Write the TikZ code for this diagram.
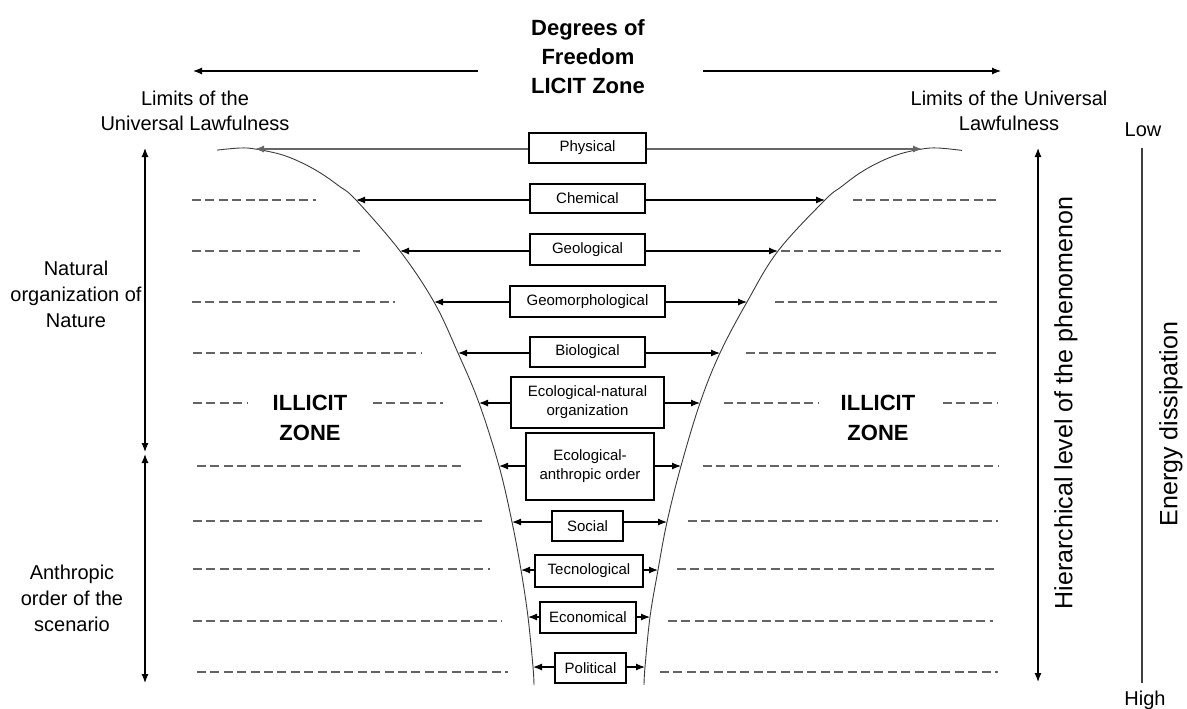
\documentclass[tikz,border=0pt]{standalone}
\usepackage{fontspec}
\setmainfont{Liberation Sans}
\usetikzlibrary{arrows.meta}
\definecolor{dashgray}{HTML}{646464}
\definecolor{curvegray}{HTML}{3A3A3A}
\tikzset{
  lbl/.style={font=\fontsize{20}{25}\selectfont, align=center, inner sep=0pt},
  lblb/.style={font=\fontsize{20}{26}\selectfont, align=center, inner sep=0pt},
  ttl/.style={font=\bfseries\fontsize{22}{29}\selectfont, align=center, inner sep=0pt},
  zone/.style={font=\bfseries\fontsize{22}{30}\selectfont, align=center, inner sep=0pt},
  vtxt/.style={font=\fontsize{25}{30}\selectfont, rotate=90, inner sep=0pt},
  lvl/.style={draw, line width=1.2pt, font=\fontsize{15}{19}\selectfont, align=center, inner sep=0pt},
  conn/.style={line width=1.2pt, -{Latex[length=9pt,width=7pt]}},
  dbl/.style={line width=1.2pt, {Latex[length=9pt,width=7pt]}-{Latex[length=9pt,width=7pt]}},
  funnel/.style={line width=0.9pt, curvegray},
  dsh/.style={line width=2.3pt, dashgray, dash pattern=on 9pt off 4.4pt},
}
\begin{document}
\begin{tikzpicture}[x=1pt,y=-1pt]
\useasboundingbox (0,0) rectangle (1187,709);

% title and top arrows
\node[ttl] (title) at (588,57) {Degrees of\\Freedom\\LICIT Zone};
\coordinate (tla) at (478,71); \coordinate (tlb) at (193,71);
\coordinate (tra) at (703,71); \coordinate (trb) at (1001,71);
\draw[conn] (tla) -- (tlb);
\draw[conn] (tra) -- (trb);

\node[lbl] (limL) at (195,111) {Limits of the\\Universal Lawfulness};
\node[lbl] (limR) at (1009,111) {Limits of the Universal\\Lawfulness};

% left side labels and arrows
\node[lblb] (nat) at (76,294) {Natural\\organization of\\Nature};
\node[lblb] (anth) at (72,598) {Anthropic\\order of the\\scenario};
\coordinate (va1) at (145,148); \coordinate (va2) at (145,452);
\coordinate (vb1) at (145,454); \coordinate (vb2) at (145,683);
\draw[dbl] (va1) -- (va2);
\draw[dbl] (vb1) -- (vb2);

% right side
\coordinate (h1) at (1038,148); \coordinate (h2) at (1038,682);
\draw[dbl] (h1) -- (h2);
\node[vtxt] (hier) at (1066,403) {Hierarchical level of the phenomenon};
\coordinate (e1) at (1142,148); \coordinate (e2) at (1142,683);
\draw[line width=1.2pt, black!75] (e1) -- (e2);
\node[lbl] (low) at (1143,130) {Low};
\node[lbl] (high) at (1145,700) {High};
\node[vtxt] (energy) at (1171,424) {Energy dissipation};

% dashed lines (left)
\draw[dsh] (192,200) -- (316,200);
\draw[dsh] (192,251) -- (360,251);
\draw[dsh] (192,302) -- (395,302);
\draw[dsh] (193,353) -- (421,353);
\draw[dsh] (193,403) -- (248,403);
\draw[dsh] (373,403) -- (443,403);
\draw[dsh] (197,466) -- (463,466);
\draw[dsh] (193,521) -- (482,521);
\draw[dsh] (193,569) -- (490,569);
\draw[dsh] (193,621) -- (502,621);
\draw[dsh] (197,672) -- (508,672);
% dashed lines (right)
\draw[dsh] (853,200) -- (1000,200);
\draw[dsh] (781,251) -- (1001,251);
\draw[dsh] (775,302) -- (997,302);
\draw[dsh] (746,353) -- (996,353);
\draw[dsh] (724,403) -- (818,403);
\draw[dsh] (943,403) -- (998,403);
\draw[dsh] (703,466) -- (998,466);
\draw[dsh] (688,521) -- (998,521);
\draw[dsh] (677,569) -- (998,569);
\draw[dsh] (668,621) -- (993,621);
\draw[dsh] (660,672) -- (998,672);

\node[zone] (illL) at (310,418) {ILLICIT\\ZONE};
\node[zone] (illR) at (878,418) {ILLICIT\\ZONE};

% funnel tip coordinates
\coordinate (L1) at (255,149); \coordinate (R1) at (922,149);
\coordinate (L2) at (356,200); \coordinate (R2) at (825,200);
\coordinate (L3) at (400,251); \coordinate (R3) at (778,251);
\coordinate (L4) at (434,302); \coordinate (R4) at (747,302);
\coordinate (L5) at (458,353); \coordinate (R5) at (720,353);
\coordinate (L6) at (479,403); \coordinate (R6) at (700,403);
\coordinate (L7) at (499,466); \coordinate (R7) at (681,466);
\coordinate (L8) at (512,522); \coordinate (R8) at (667,522);
\coordinate (L9) at (521,570); \coordinate (R9) at (658,570);
\coordinate (L10) at (528,617); \coordinate (R10) at (650,617);
\coordinate (L11) at (533,667); \coordinate (R11) at (645,667);
\coordinate (Le) at (534,685); \coordinate (Re) at (644,685);

\draw[funnel] plot[smooth, tension=0.6] coordinates {(217,150.1) (240,148) (L1) (280,154.2) (300,161.9) (320,172.7) (339,186) (L2) (L3) (L4) (L5) (L6) (L7) (L8) (L9) (L10) (L11) (Le)};
\draw[funnel] plot[smooth, tension=0.6] coordinates {(962,150.4) (938,148) (R1) (900,153.9) (880,161.8) (860,172.9) (841,187) (R2) (R3) (R4) (R5) (R6) (R7) (R8) (R9) (R10) (R11) (Re)};

% level boxes
\node[lvl, minimum width=117pt, minimum height=30pt] (phy) at (587.5,148) {Physical};
\node[lvl, minimum width=115pt, minimum height=29pt] (che) at (587.5,198.5) {Chemical};
\node[lvl, minimum width=115pt, minimum height=31pt] (geo) at (587.5,249.5) {Geological};
\node[lvl, minimum width=155pt, minimum height=31pt] (gmo) at (587.5,301.5) {Geomorphological};
\node[lvl, minimum width=115pt, minimum height=30pt] (bio) at (587.5,352) {Biological};
\node[lvl, minimum width=153pt, minimum height=51pt] (eno) at (587.5,402.5) {Ecological-natural\\organization};
\node[lvl, minimum width=128pt, minimum height=67pt] (eao) at (590,466.5) {Ecological-\\anthropic order};
\node[lvl, minimum width=71pt, minimum height=30pt] (soc) at (587.5,526) {Social};
\node[lvl, minimum width=108pt, minimum height=32pt] (tec) at (589,571) {Tecnological};
\node[lvl, minimum width=96pt, minimum height=31pt] (eco) at (588,617.5) {Economical};
\node[lvl, minimum width=71pt, minimum height=30pt] (pol) at (590.5,668) {Political};

% connectors
\draw[conn, black!60] (phy.west |- L1) -- (L1);
\draw[conn, black!60] (phy.east |- R1) -- (R1);
\foreach \b/\i in {che/2, geo/3, gmo/4, bio/5, eno/6, eao/7, soc/8, tec/9, eco/10, pol/11}{
  \draw[conn] (\b.west |- L\i) -- (L\i);
  \draw[conn] (\b.east |- R\i) -- (R\i);
}
\end{tikzpicture}
\end{document}
